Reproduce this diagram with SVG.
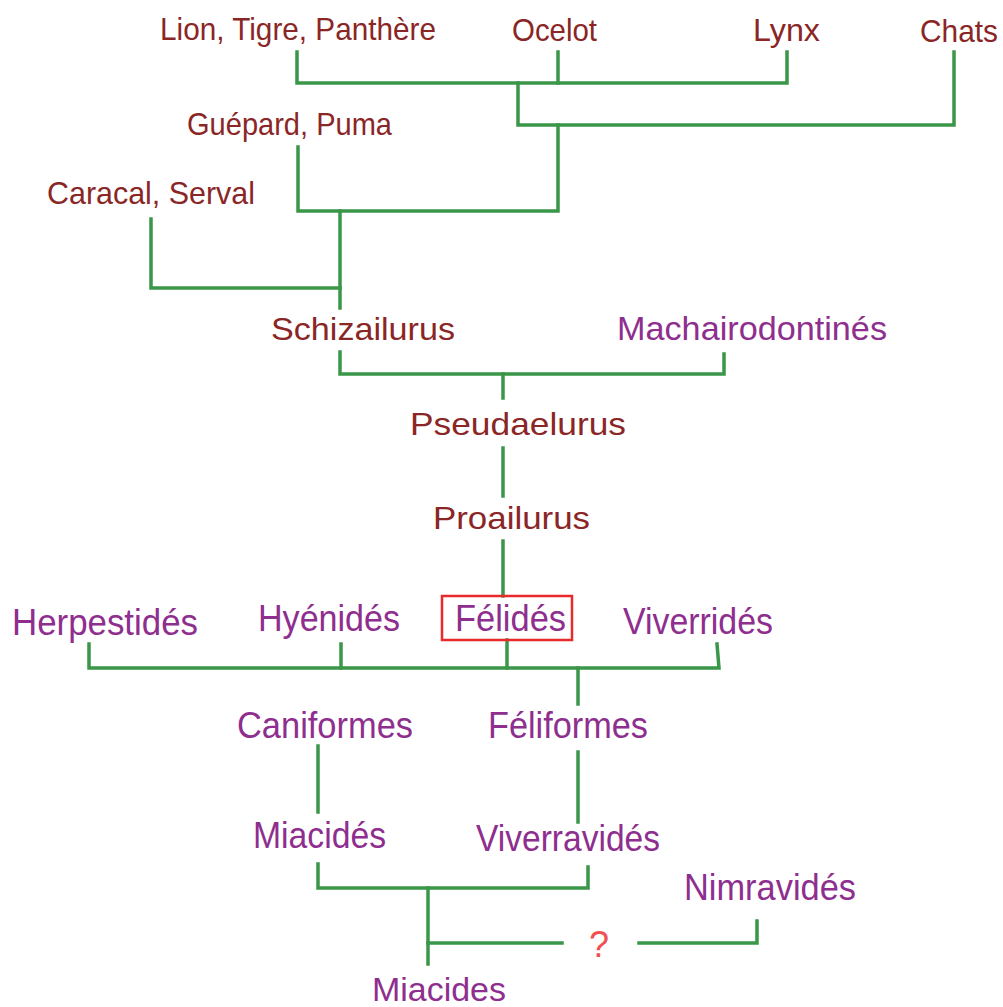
<svg xmlns="http://www.w3.org/2000/svg" width="1003" height="1007" viewBox="0 0 1003 1007">
<style>
text{font-family:"Liberation Sans",Arial,sans-serif;}
.b{fill:#8a2626;font-size:32px;}
.p{fill:#8e2e8e;font-size:36px;}
.c{fill:none;stroke:#3a9648;stroke-width:3.5;stroke-linecap:square;}
</style>
<rect width="1003" height="1007" fill="#fff"/>
<g id="connectors" class="c">
<polyline points="297,52 297,83 787,83 787,52"/>
<line x1="558" y1="52" x2="558" y2="83"/>
<polyline points="518,83 518,125 954,125 954,52"/>
<polyline points="298,147 298,211 558,211 558,125"/>
<polyline points="151,219 151,288 340,288"/>
<line x1="340" y1="211" x2="340" y2="308"/>
<polyline points="340,352 340,374 724,374 724,354"/>
<line x1="503" y1="374" x2="503" y2="398"/>
<line x1="503" y1="448" x2="503" y2="496"/>
<line x1="503" y1="541" x2="503" y2="596"/>
<polyline points="89,644 89,668 719,668 717,644"/>
<line x1="341" y1="644" x2="341" y2="668"/>
<line x1="507" y1="640" x2="507" y2="668"/>
<line x1="578" y1="668" x2="578" y2="704"/>
<line x1="318" y1="746" x2="318" y2="812"/>
<line x1="578" y1="752" x2="578" y2="822"/>
<polyline points="318,864 318,888 588,888 588,867"/>
<line x1="428" y1="888" x2="428" y2="964"/>
<line x1="428" y1="943" x2="562" y2="943"/>
<polyline points="639,943 757,943 757,921"/>
</g>
<g id="n-lion"><text class="b" x="160" y="40" textLength="276" lengthAdjust="spacingAndGlyphs">Lion, Tigre, Panthère</text></g>
<g id="n-ocelot"><text class="b" x="512" y="41" textLength="85" lengthAdjust="spacingAndGlyphs">Ocelot</text></g>
<g id="n-lynx"><text class="b" x="753" y="41" textLength="67" lengthAdjust="spacingAndGlyphs">Lynx</text></g>
<g id="n-chats"><text class="b" x="920" y="42" textLength="78" lengthAdjust="spacingAndGlyphs">Chats</text></g>
<g id="n-guepard"><text class="b" x="187" y="135" textLength="205" lengthAdjust="spacingAndGlyphs">Guépard, Puma</text></g>
<g id="n-caracal"><text class="b" x="47" y="204" textLength="208" lengthAdjust="spacingAndGlyphs">Caracal, Serval</text></g>
<g id="n-schizailurus"><text class="b" x="271" y="340" textLength="184" lengthAdjust="spacingAndGlyphs">Schizailurus</text></g>
<g id="n-machairodontines"><text class="p" x="617" y="340" textLength="270" lengthAdjust="spacingAndGlyphs" style="font-size:33px">Machairodontinés</text></g>
<g id="n-pseudaelurus"><text class="b" x="410" y="435" textLength="216" lengthAdjust="spacingAndGlyphs">Pseudaelurus</text></g>
<g id="n-proailurus"><text class="b" x="433" y="529" textLength="157" lengthAdjust="spacingAndGlyphs">Proailurus</text></g>
<g id="n-herpestides"><text class="p" x="12" y="635" textLength="186" lengthAdjust="spacingAndGlyphs">Herpestidés</text></g>
<g id="n-hyenides"><text class="p" x="258" y="631" textLength="142" lengthAdjust="spacingAndGlyphs">Hyénidés</text></g>
<g id="n-felides"><rect x="442" y="596" width="130" height="44" fill="none" stroke="#e82a2a" stroke-width="2.5"/><text class="p" x="455" y="631" textLength="111" lengthAdjust="spacingAndGlyphs">Félidés</text></g>
<g id="n-viverrides"><text class="p" x="623" y="634" textLength="150" lengthAdjust="spacingAndGlyphs">Viverridés</text></g>
<g id="n-caniformes"><text class="p" x="237" y="738" textLength="176" lengthAdjust="spacingAndGlyphs">Caniformes</text></g>
<g id="n-feliformes"><text class="p" x="488" y="738" textLength="160" lengthAdjust="spacingAndGlyphs">Féliformes</text></g>
<g id="n-miacides1"><text class="p" x="253" y="848" textLength="133" lengthAdjust="spacingAndGlyphs">Miacidés</text></g>
<g id="n-viverravides"><text class="p" x="476" y="851" textLength="184" lengthAdjust="spacingAndGlyphs">Viverravidés</text></g>
<g id="n-nimravides"><text class="p" x="684" y="900" textLength="172" lengthAdjust="spacingAndGlyphs">Nimravidés</text></g>
<g id="n-question"><text x="589" y="957" style="font-size:36px;fill:#f05050">?</text></g>
<g id="n-miacides2"><text class="p" x="372" y="1001" textLength="134" lengthAdjust="spacingAndGlyphs" style="font-size:34px">Miacides</text></g>
</svg>
